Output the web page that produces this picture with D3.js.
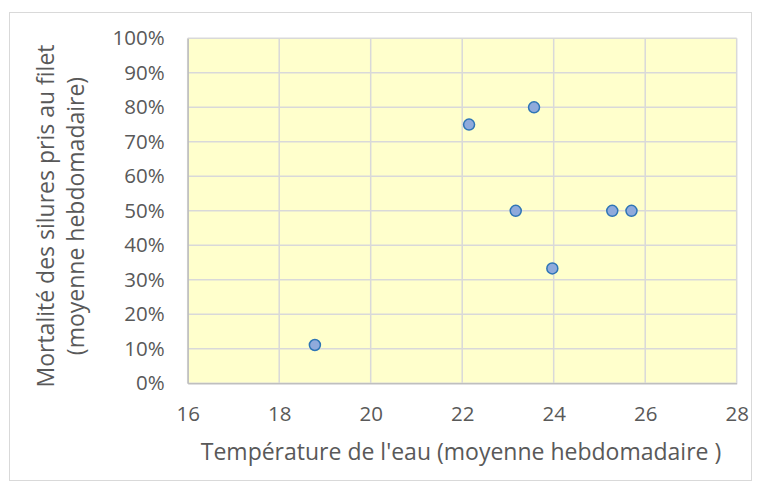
<!DOCTYPE html>
<html>
<head>
<meta charset="utf-8">
<script src="https://cdn.jsdelivr.net/npm/d3@7"></script>
<style>
body { margin: 0; background: #fff; }
text { font-family: "Open Sans", "Noto Sans", sans-serif; fill: #595959; }
</style>
</head>
<body>
<svg width="760" height="489"></svg>
<script>
// water temperature (weekly mean) and mortality of netted catfish
var temperature = [18.78, 22.15, 23.17, 23.57, 23.97, 25.28, 25.7];
var mortality = [0.111, 0.75, 0.5, 0.8, 0.333, 0.5, 0.5];

var xTicks = [16, 18, 20, 22, 24, 26, 28];
var yTicks = [0, 0.1, 0.2, 0.3, 0.4, 0.5, 0.6, 0.7, 0.8, 0.9, 1];

var xTitle = "Température de l'eau (moyenne hebdomadaire )";
var yTitle1 = "Mortalité des silures pris au filet";
var yTitle2 = "(moyenne  hebdomadaire)";

var svg = d3.select("svg");

// outer chart frame
svg.append("rect")
  .attr("x", 9.5).attr("y", 12.5)
  .attr("width", 742).attr("height", 468)
  .attr("fill", "#fff")
  .attr("stroke", "#d9d9d9");

var plot = {left: 187.7, right: 736.7, top: 38.3, bottom: 383.3};

var xscale = d3.scaleLinear().domain([16, 28]).range([plot.left, plot.right]);
var yscale = d3.scaleLinear().domain([0, 1]).range([plot.bottom, plot.top]);

svg.append("rect")
  .attr("x", plot.left).attr("y", plot.top)
  .attr("width", plot.right - plot.left)
  .attr("height", plot.bottom - plot.top)
  .attr("fill", "#ffffcc");

// gridlines
svg.append("g")
  .selectAll("line")
  .data(xTicks)
  .enter()
  .append("line")
  .attr("x1", function(d) { return xscale(d); })
  .attr("x2", function(d) { return xscale(d); })
  .attr("y1", plot.top).attr("y2", plot.bottom)
  .attr("stroke", "#d9d9d9").attr("stroke-width", 1.5);

svg.append("g")
  .selectAll("line")
  .data(yTicks)
  .enter()
  .append("line")
  .attr("x1", plot.left).attr("x2", plot.right)
  .attr("y1", function(d) { return yscale(d); })
  .attr("y2", function(d) { return yscale(d); })
  .attr("stroke", "#d9d9d9").attr("stroke-width", 1.5);

// axes
var xAxis = d3.axisBottom(xscale).tickValues(xTicks).tickSize(0).tickPadding(23);
var yAxis = d3.axisLeft(yscale).tickValues(yTicks).tickSize(0).tickPadding(23)
  .tickFormat(d3.format(".0%"));

var gx = svg.append("g").attr("transform", "translate(0," + plot.bottom + ")").call(xAxis);
var gy = svg.append("g").attr("transform", "translate(" + plot.left + ",0)").call(yAxis);

[gx, gy].forEach(function(g) {
  g.attr("font-size", null).attr("font-family", null);
  g.select(".domain").attr("stroke", "#bfbfbf").attr("stroke-width", 1.5);
  g.selectAll("text")
    .style("font-size", "20.5px")
    .style("font-family", "'Open Sans', 'Noto Sans', sans-serif")
    .attr("fill", "#595959");
});

// points
svg.append("g")
  .selectAll("circle")
  .data(temperature)
  .enter()
  .append("circle")
  .attr("cx", function(d) { return xscale(d); })
  .attr("cy", function(d, i) { return yscale(mortality[i]); })
  .attr("r", 5.5)
  .attr("fill", "#8faadc")
  .attr("stroke", "#2e75b6")
  .attr("stroke-width", 1.5);

// titles
svg.append("text")
  .attr("x", 461).attr("y", 460)
  .attr("text-anchor", "middle")
  .style("font-size", "23px")
  .text(xTitle);

var yt = svg.append("g").attr("transform", "translate(0,216) rotate(-90)");
yt.append("text")
  .attr("x", 0).attr("y", 54)
  .attr("text-anchor", "middle")
  .style("font-size", "23px")
  .text(yTitle1);
yt.append("text")
  .attr("x", 0).attr("y", 84)
  .attr("text-anchor", "middle")
  .style("font-size", "23px")
  .text(yTitle2);
</script>
</body>
</html>
